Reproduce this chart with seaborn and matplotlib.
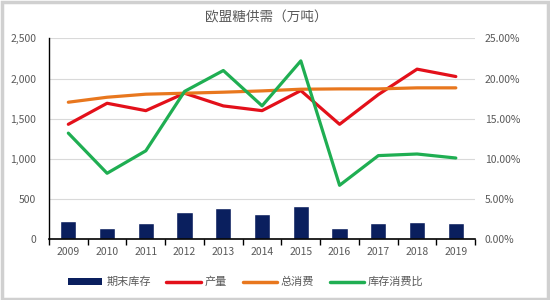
import numpy as np
import pandas as pd
import matplotlib
matplotlib.use("Agg")
import matplotlib.pyplot as plt
import seaborn as sns
from matplotlib.patches import Patch, Rectangle
from matplotlib.lines import Line2D
from matplotlib.ticker import FuncFormatter, FixedLocator

years = ["2009", "2010", "2011", "2012", "2013", "2014", "2015", "2016", "2017", "2018", "2019"]
stock = [225, 142, 196, 334, 384, 313, 417, 134, 196, 209, 196]
production = [1430, 1692, 1600, 1817, 1659, 1600, 1850, 1430, 1800, 2117, 2025]
consumption = [1705, 1767, 1805, 1817, 1830, 1846, 1867, 1871, 1871, 1884, 1884]
ratio = [13.2, 8.2, 11.0, 18.4, 21.0, 16.6, 22.2, 6.7, 10.4, 10.6, 10.1]

title = "欧盟糖供需（万吨）"
labels = ["期末库存", "产量", "总消费", "库存消费比"]
colors = ["#0a1f5e", "#e3101a", "#e8771e", "#1fae52"]

sns.set_theme(style="white")
plt.rcParams["font.family"] = ["Noto Sans CJK SC", "DejaVu Sans"]

df = pd.DataFrame({"year": years, "idx": np.arange(len(years)), "stock": stock,
                   "production": production, "consumption": consumption, "ratio": ratio})

fig = plt.figure(figsize=(5.5, 3.0), dpi=100)
ax = fig.add_axes([0.089, 0.203, 0.775, 0.669])

sns.barplot(data=df, x="idx", y="stock", color=colors[0], width=0.42, ax=ax,
            saturation=1, native_scale=True)
sns.lineplot(data=df, x="idx", y="production", color=colors[1], linewidth=2.3, ax=ax)
sns.lineplot(data=df, x="idx", y="consumption", color=colors[2], linewidth=2.3, ax=ax)

ax2 = ax.twinx()
sns.lineplot(data=df, x="idx", y="ratio", color=colors[3], linewidth=2.3, ax=ax2)

grey = "#595959"
ax.set_xlim(-0.5, len(years) - 0.5)
ax.set_ylim(0, 2500)
ax.set_yticks([0, 500, 1000, 1500, 2000, 2500])
ax.yaxis.set_major_formatter(FuncFormatter(lambda v, p: f"{int(v):,}"))
ax.set_xticks(np.arange(len(years)))
ax.set_xticklabels(years)
ax.xaxis.set_minor_locator(FixedLocator(np.arange(-0.5, len(years), 1.0)))
ax.tick_params(axis="x", which="major", length=0, labelsize=7.5, colors=grey, pad=6)
ax.tick_params(axis="x", which="minor", length=4, width=1, color="black", direction="out", bottom=True)
ax.tick_params(axis="y", length=0, labelsize=7.5, colors=grey, pad=9)
ax.grid(axis="y", color="#d9d9d9", linewidth=0.8)
ax.set_axisbelow(True)
ax.set_xlabel("")
ax.set_ylabel("")
for s in ["top", "right"]:
    ax.spines[s].set_visible(False)
ax.spines["left"].set_color("black")
ax.spines["bottom"].set_color("black")
ax.spines["left"].set_linewidth(1)
ax.spines["bottom"].set_linewidth(1.2)

ax2.set_ylim(0, 25)
ax2.set_yticks([0, 5, 10, 15, 20, 25])
ax2.yaxis.set_major_formatter(FuncFormatter(lambda v, p: f"{v:.2f}%"))
ax2.tick_params(axis="y", length=0, labelsize=7.5, colors=grey, pad=7)
ax2.set_ylabel("")
for s in ["top", "right", "left", "bottom"]:
    ax2.spines[s].set_visible(False)

fig.text(0.485, 0.943, title, ha="center", va="center", fontsize=9.8, color=grey)

handles = [Patch(facecolor=colors[0], edgecolor="none"),
           Line2D([], [], color=colors[1], linewidth=2.5),
           Line2D([], [], color=colors[2], linewidth=2.5),
           Line2D([], [], color=colors[3], linewidth=2.5)]
fig.legend(handles, labels, loc="center", bbox_to_anchor=(0.447, 0.06), ncol=4, frameon=False,
           fontsize=8, handlelength=3.1, handleheight=0.55, columnspacing=1.4, handletextpad=0.35,
           labelcolor=grey)

fig.patches.append(Rectangle((0.003, 0.005), 0.994, 0.99, transform=fig.transFigure,
                             fill=False, edgecolor="#d0d0d0", linewidth=2.5))

fig.savefig("out.png", dpi=100)
